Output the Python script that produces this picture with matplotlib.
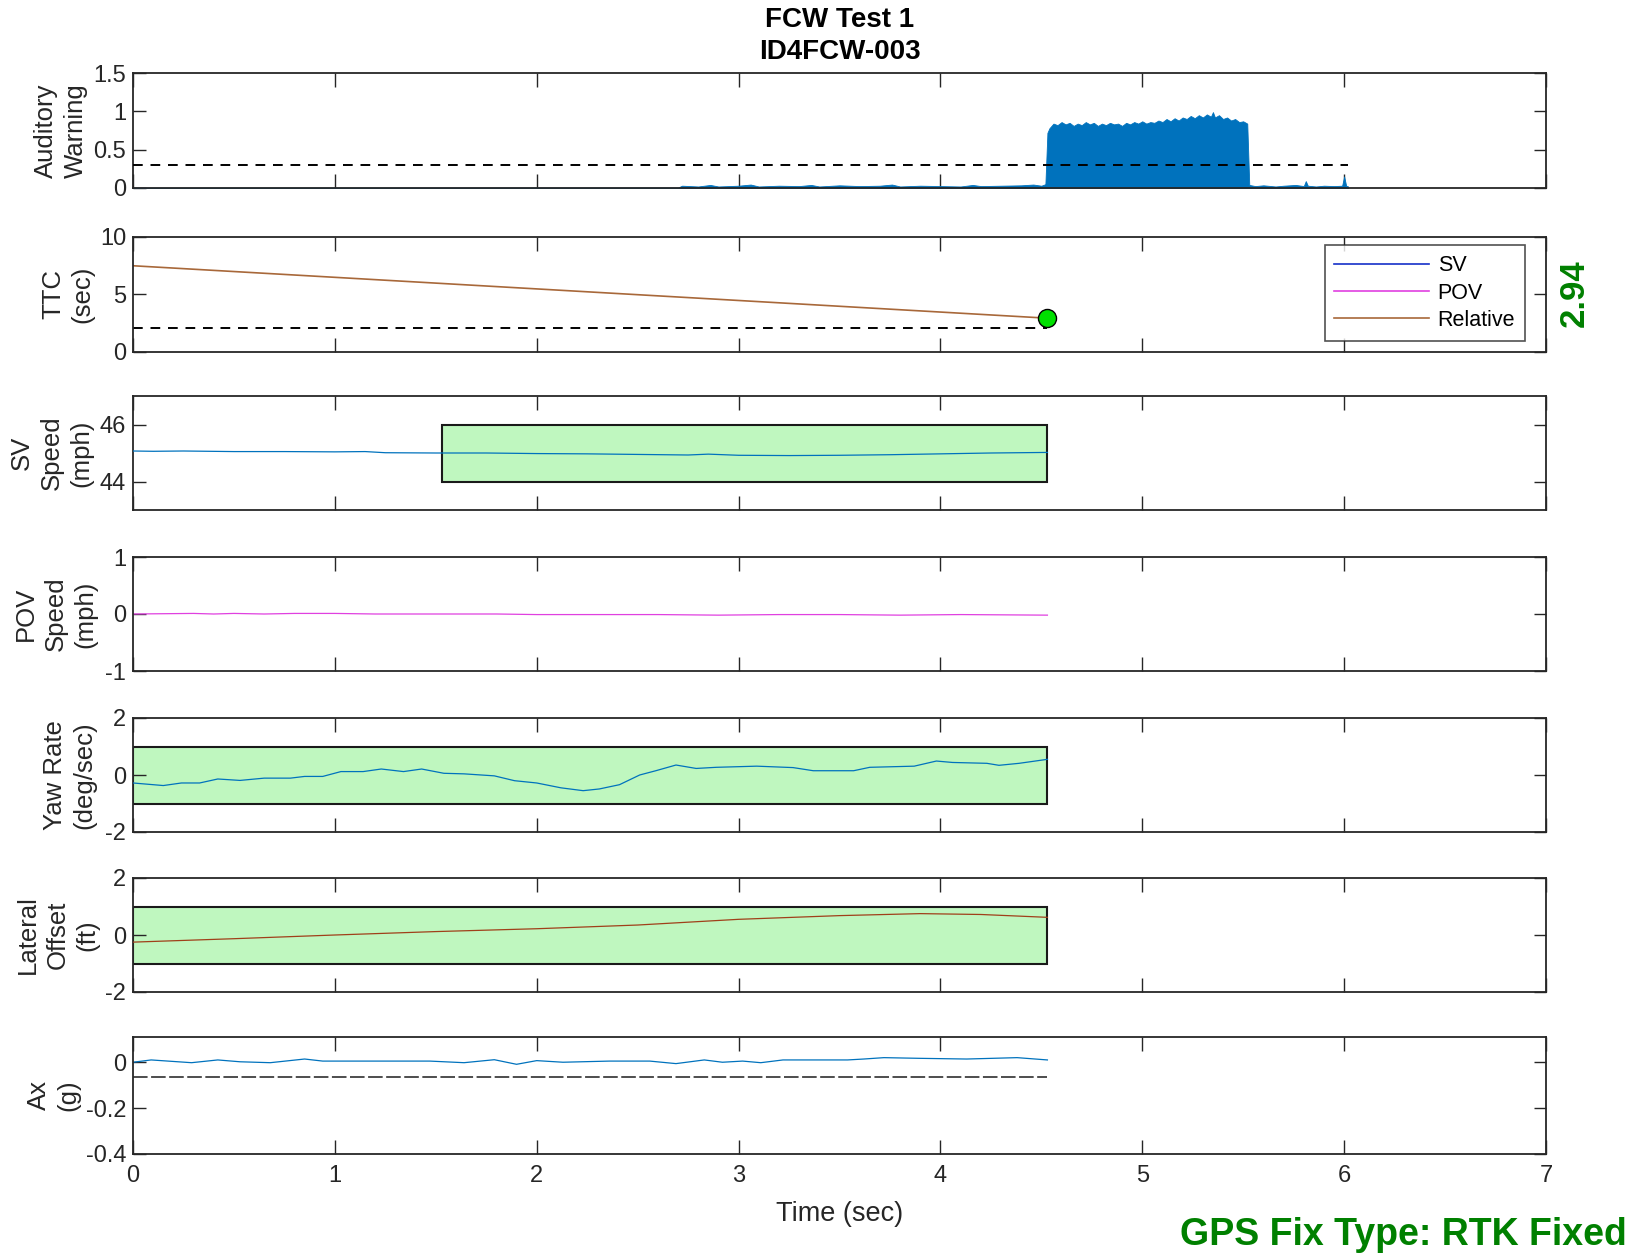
import matplotlib
matplotlib.use("Agg")
import matplotlib.pyplot as plt
from matplotlib.patches import Rectangle

FONT = ["Liberation Sans", "DejaVu Sans"]
plt.rcParams["font.family"] = FONT
plt.rcParams["axes.unicode_minus"] = False

# ---- data ----
# auditory warning envelope (upper edge of the raw signal)
audio_t = [0.00, 2.70, 2.72, 2.80, 2.86, 2.90, 3.00, 3.06, 3.10, 3.20, 3.30,
           3.36, 3.40, 3.50, 3.60, 3.70, 3.76, 3.80, 3.90, 4.00, 4.10, 4.16,
           4.20, 4.30, 4.40, 4.46, 4.50, 4.52,
           4.53, 4.54, 4.56, 4.58, 4.60, 4.62, 4.64, 4.66, 4.68, 4.70, 4.72,
           4.74, 4.76, 4.78, 4.80, 4.82, 4.84, 4.86, 4.88, 4.90, 4.92, 4.94,
           4.96, 4.98, 5.00, 5.02, 5.04, 5.06, 5.08, 5.10, 5.12, 5.14, 5.16,
           5.18, 5.20, 5.22, 5.24, 5.26, 5.28, 5.30, 5.32, 5.34, 5.35, 5.36,
           5.38, 5.40, 5.42, 5.44, 5.46, 5.48, 5.50, 5.52, 5.53,
           5.56, 5.60, 5.66, 5.70, 5.76, 5.80, 5.81, 5.82, 5.86, 5.90, 5.95,
           5.99, 6.00, 6.01, 6.02]
audio_env = [0.004, 0.006, 0.03, 0.02, 0.04, 0.02, 0.03, 0.045, 0.02, 0.03, 0.025,
             0.04, 0.02, 0.035, 0.025, 0.03, 0.045, 0.02, 0.03, 0.025, 0.02, 0.04,
             0.025, 0.03, 0.035, 0.045, 0.03, 0.05,
             0.72, 0.78, 0.84, 0.82, 0.86, 0.83, 0.85, 0.81, 0.84, 0.82, 0.86,
             0.83, 0.85, 0.81, 0.84, 0.82, 0.85, 0.83, 0.84, 0.81, 0.85, 0.83,
             0.86, 0.84, 0.87, 0.84, 0.86, 0.85, 0.88, 0.86, 0.90, 0.87, 0.91,
             0.88, 0.92, 0.90, 0.94, 0.91, 0.95, 0.92, 0.96, 0.93, 0.99, 0.92,
             0.95, 0.90, 0.92, 0.88, 0.90, 0.86, 0.87, 0.84, 0.04,
             0.025, 0.035, 0.02, 0.03, 0.04, 0.025, 0.09, 0.03, 0.02, 0.03, 0.025,
             0.03, 0.15, 0.03, 0.02]
audio_thresh = 0.3
audio_thresh_end = 6.02

# time-to-collision
ttc_t = [0.00, 4.53]
ttc_rel = [7.5, 2.94]
ttc_thresh = 2.1
ttc_warn = 2.94

# subject vehicle speed (mph)
sv_t = [0.00, 0.10, 0.25, 0.50, 0.75, 1.00, 1.15, 1.25, 1.50, 1.75, 2.00, 2.25, 2.50,
        2.75, 2.85, 3.00, 3.25, 3.50, 3.75, 4.00, 4.25, 4.53]
sv_speed = [45.07, 45.06, 45.07, 45.05, 45.05, 45.04, 45.05, 45.01, 45.00, 45.00, 44.98,
            44.97, 44.95, 44.93, 44.96, 44.92, 44.91, 44.92, 44.94, 44.97, 45.00, 45.02]

# principal other vehicle speed (mph)
pov_t = [0.00, 0.30, 0.40, 0.50, 0.65, 0.80, 1.00, 1.20, 1.50, 1.80, 2.00, 2.30,
         2.60, 2.90, 3.20, 3.50, 3.80, 4.10, 4.53]
pov_speed = [0.00, 0.01, 0.00, 0.01, 0.00, 0.01, 0.01, 0.00, 0.00, 0.00, -0.01, -0.01,
             -0.01, -0.02, -0.01, -0.01, -0.02, -0.01, -0.02]

# yaw rate (deg/sec)
yaw_t = [0.00, 0.15, 0.24, 0.33, 0.42, 0.53, 0.65, 0.78, 0.85, 0.94, 1.03,
         1.14, 1.23, 1.34, 1.43, 1.54, 1.64, 1.79, 1.89, 2.00, 2.12, 2.23,
         2.31, 2.41, 2.51, 2.59, 2.69, 2.79, 2.89, 3.09, 3.27, 3.37, 3.57,
         3.65, 3.87, 3.98, 4.06, 4.23, 4.29, 4.39, 4.53]
yaw_rate = [-0.28, -0.37, -0.28, -0.28, -0.14, -0.19, -0.11, -0.11, -0.05, -0.05, 0.12,
            0.12, 0.21, 0.12, 0.21, 0.06, 0.04, -0.03, -0.20, -0.28, -0.45, -0.55,
            -0.49, -0.34, 0.00, 0.15, 0.35, 0.23, 0.27, 0.31, 0.26, 0.15, 0.15,
            0.27, 0.31, 0.49, 0.44, 0.41, 0.34, 0.41, 0.55]

# lateral offset (ft)
lat_t = [0.00, 0.50, 1.00, 1.50, 2.00, 2.50, 3.00, 3.50, 3.90, 4.20, 4.53]
lat_off = [-0.25, -0.13, 0.00, 0.12, 0.22, 0.35, 0.55, 0.68, 0.75, 0.72, 0.62]

# longitudinal acceleration (g)
ax_t = [0.00, 0.09, 0.29, 0.42, 0.53, 0.68, 0.85, 0.94, 1.47, 1.64, 1.79,
        1.90, 2.00, 2.13, 2.36, 2.56, 2.69, 2.83, 2.92, 3.02, 3.11, 3.22,
        3.54, 3.62, 3.72, 3.90, 4.13, 4.38, 4.53]
ax_g = [0.000, 0.010, -0.002, 0.010, 0.002, -0.002, 0.014, 0.005, 0.005, -0.002, 0.011,
        -0.009, 0.007, 0.000, 0.005, 0.005, -0.006, 0.010, 0.000, 0.005, -0.002, 0.010,
        0.010, 0.014, 0.020, 0.017, 0.014, 0.020, 0.010]
ax_thresh = -0.065

# shaded tolerance windows: (t0, t1, y0, y1)
sv_box = (1.53, 4.53, 44.0, 46.0)
yaw_box = (0.0, 4.53, -1.0, 1.0)
lat_box = (0.0, 4.53, -1.0, 1.0)

# ---- styling ----
MAT_BLUE = "#0072BD"
SV_COLOR = "#1530C8"
POV_COLOR = "#E040E0"
REL_COLOR = "#A8683A"
BOX_FILL = "#BFF7BF"
GREEN_TXT = "#008000"
SPINE = "#262626"

W, H = 1641, 1258
fig = plt.figure(figsize=(W / 100, H / 100), dpi=100)


def panel(top_px, bot_px):
    ax = fig.add_axes([133 / W, 1 - bot_px / H, (1546 - 133) / W, (bot_px - top_px) / H])
    ax.set_xlim(0, 7)
    ax.set_xticks(range(8))
    ax.tick_params(direction="in", top=True, right=True, length=10, width=1,
                   labelsize=17, color=SPINE, labelcolor="#262626", pad=5)
    ax.tick_params(axis="y", length=9)
    ax.tick_params(axis="x", pad=8)
    for s in ax.spines.values():
        s.set_color(SPINE)
        s.set_linewidth(1.3)
    return ax


def ylab(ax, text, x):
    # x is the right edge of the label block in axes coords
    ax.set_ylabel(text, fontsize=18.5, color="#262626", linespacing=1.3)
    ax.yaxis.set_label_coords(x, 0.5)


def box(ax, b):
    ax.add_patch(Rectangle((b[0], b[2]), b[1] - b[0], b[3] - b[2],
                           facecolor=BOX_FILL, edgecolor="#1a1a1a", linewidth=1.5, zorder=1))


# 1 auditory warning
a1 = panel(73, 188)
a1.fill_between(audio_t, 0, audio_env, color=MAT_BLUE, linewidth=0.6, zorder=2)
a1.plot([0, audio_thresh_end], [audio_thresh] * 2, "--", color="black", lw=1.4, dashes=(5, 4), zorder=3)
a1.set_ylim(0, 1.5)
a1.set_yticks([0, 0.5, 1, 1.5])
a1.set_yticklabels(["0", "0.5", "1", "1.5"])
a1.set_xticklabels([])
ylab(a1, "Auditory\nWarning", -0.032)

# 2 TTC
a2 = panel(237, 352)
a2.plot([], [], color=SV_COLOR, lw=1.2, label="SV")
a2.plot([], [], color=POV_COLOR, lw=1.2, label="POV")
a2.plot(ttc_t, ttc_rel, color=REL_COLOR, lw=1.2, label="Relative")
a2.plot([0, ttc_t[-1]], [ttc_thresh] * 2, "--", color="black", lw=1.4, dashes=(5, 4))
a2.plot([ttc_t[-1]], [ttc_warn], "o", ms=13, mfc="#00E000", mec="black", mew=1.0, zorder=5)
a2.set_ylim(0, 10)
a2.set_yticks([0, 5, 10])
a2.set_xticklabels([])
ylab(a2, "TTC\n(sec)", -0.027)
leg = a2.legend(loc="upper right", bbox_to_anchor=(0.985, 0.927), borderaxespad=0,
                fontsize=15.5, frameon=True, fancybox=False, handlelength=4.4,
                borderpad=0.45, labelspacing=0.3, handletextpad=0.4)
leg.get_frame().set_edgecolor("#262626")
leg.get_frame().set_linewidth(1.2)
fig.text(1574 / W, 1 - 293 / H, f"{ttc_warn:.2f}", rotation=90, color=GREEN_TXT,
         fontsize=25, fontweight="bold", ha="center", va="center")

# 3 SV speed
a3 = panel(396, 510)
box(a3, sv_box)
a3.plot(sv_t, sv_speed, color=MAT_BLUE, lw=0.9, zorder=3)
a3.set_ylim(43, 47)
a3.set_yticks([44, 46])
a3.set_xticklabels([])
ylab(a3, "SV\nSpeed\n(mph)", -0.028)

# 4 POV speed
a4 = panel(557, 671)
a4.plot(pov_t, pov_speed, color=POV_COLOR, lw=0.9)
a4.set_ylim(-1, 1)
a4.set_yticks([-1, 0, 1])
a4.set_xticklabels([])
ylab(a4, "POV\nSpeed\n(mph)", -0.025)

# 5 yaw rate
a5 = panel(718, 832)
box(a5, yaw_box)
a5.plot(yaw_t, yaw_rate, color=MAT_BLUE, lw=0.9, zorder=3)
a5.set_ylim(-2, 2)
a5.set_yticks([-2, 0, 2])
a5.set_xticklabels([])
ylab(a5, "Yaw Rate\n(deg/sec)", -0.026)

# 6 lateral offset
a6 = panel(878, 992)
box(a6, lat_box)
a6.plot(lat_t, lat_off, color="#A0401A", lw=0.9, zorder=3)
a6.set_ylim(-2, 2)
a6.set_yticks([-2, 0, 2])
a6.set_xticklabels([])
ylab(a6, "Lateral\nOffset\n(ft)", -0.024)

# 7 longitudinal accel
a7 = panel(1037, 1154)
a7.plot(ax_t, ax_g, color=MAT_BLUE, lw=0.9)
a7.plot([0, ax_t[-1]], [ax_thresh] * 2, "--", color="#4d4d4d", lw=1.4, dashes=(7.5, 1.8))
a7.set_ylim(-0.4, 0.11)
a7.set_yticks([-0.4, -0.2, 0])
a7.set_yticklabels(["-0.4", "-0.2", "0"])
ylab(a7, "Ax\n(g)", -0.037)
a7.set_xlabel("Time (sec)", fontsize=19.5, color="#262626", labelpad=10)

# titles and footer
fig.text(840 / W, 1 - 20 / H, "FCW Test 1", ha="center", va="center",
         fontsize=20, fontweight="bold")
fig.text(840 / W, 1 - 52 / H, "ID4FCW-003", ha="center", va="center",
         fontsize=20, fontweight="bold")
fig.text(1627 / W, 1 - 1235 / H, "GPS Fix Type: RTK Fixed", ha="right", va="center",
         fontsize=27, fontweight="bold", color=GREEN_TXT)

fig.savefig("out.png", dpi=100)
plt.close(fig)
